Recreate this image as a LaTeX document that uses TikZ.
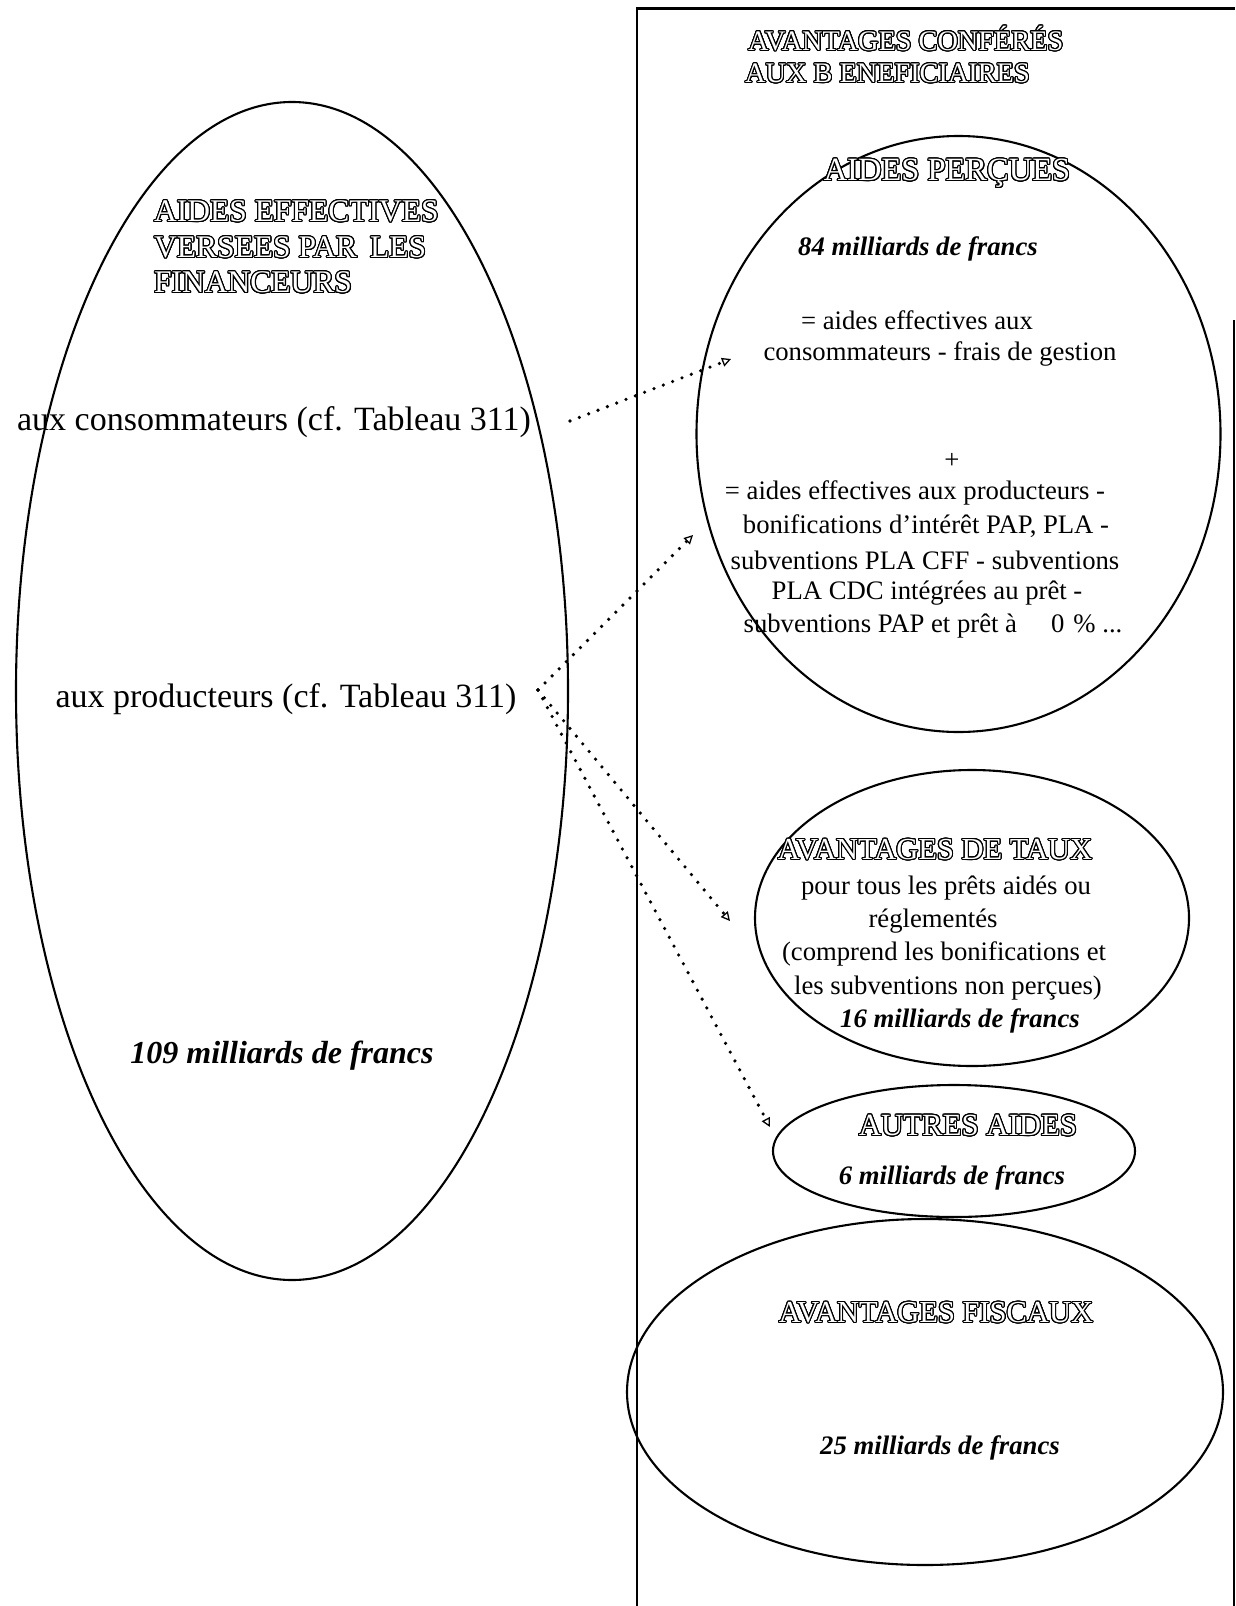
\documentclass[tikz,border=0pt]{standalone}
\usepackage{fontspec}
\setmainfont{Liberation Serif}
\usepackage[copies]{contour}
\usetikzlibrary{arrows.meta}
\contourlength{1.1pt}
\contournumber{24}
\newcommand{\hollow}[1]{\contour{black}{\textcolor{white}{#1}}}
\tikzset{
  oval/.style={draw, line width=2.1pt},
  txt/.style={inner sep=0pt, font=\fontsize{26.7}{32}\selectfont},
  big/.style={inner sep=0pt, font=\fontsize{34}{40}\selectfont},
  bigit/.style={inner sep=0pt, font=\fontsize{32}{38}\selectfont\bfseries\itshape},
  amount/.style={inner sep=0pt, font=\fontsize{26.7}{32}\selectfont\bfseries\itshape},
  ttl/.style={inner sep=0pt, font=\fontsize{28.3}{32}\selectfont},
  dotarrow/.style={line width=3.6pt, line cap=round, dash pattern=on 0pt off 10pt,
     -{Triangle[open, length=9pt, width=9pt, line width=1.3pt, line cap=butt]}},
}
\begin{document}
\begin{tikzpicture}[x=1pt, y=-1pt]
\useasboundingbox (0,0) rectangle (1235,1606);
% frame on the right
\draw[line width=2.5pt] (637,1606) -- (637,8.5) -- (1235,8.5);
\draw[line width=2.5pt] (1234,320) -- (1234,1606);
% ellipses
\draw[oval] (292,691) ellipse [x radius=276, y radius=589];
\draw[oval] (958.5,434) ellipse [x radius=262, y radius=298];
\draw[oval] (972,918) ellipse [x radius=217, y radius=148];
\draw[oval] (954,1151) ellipse [x radius=181, y radius=66];
\draw[oval] (925,1392) ellipse [x radius=298, y radius=173];
% titles
\node[ttl, anchor=west] (t1) at (748,39) {\hollow{AVANTAGES CONFÉRÉS}};
\node[ttl, anchor=west] (t2) at (745,74) {\hollow{AUX B ENEFICIAIRES}};
\node[ttl, font=\fontsize{31.5}{36}\selectfont, anchor=west] (l1) at (154,212) {\hollow{AIDES EFFECTIVES}};
\node[ttl, font=\fontsize{31.5}{36}\selectfont, anchor=west] (l2) at (154,248) {\hollow{VERSEES PAR\, LES}};
\node[ttl, font=\fontsize{31.5}{36}\selectfont, anchor=west] (l3) at (154,283) {\hollow{FINANCEURS}};
% left ellipse texts
\node[big] (cons) at (274,422) {aux consommateurs (cf. Tableau 311)};
\node[big] (prod) at (286,699) {aux producteurs (cf. Tableau 311)};
\node[bigit] (m109) at (282,1056) {109 milliards de francs};
% aides percues
\node[ttl, font=\fontsize{32.5}{36}\selectfont] (ap) at (947,174) {\hollow{AIDES PERÇUES}};
\node[amount] (m84) at (918,249) {84 milliards de francs};
\node[txt] (a1) at (917,320) {= aides effectives aux};
\node[txt] (a2) at (940,354) {consommateurs - frais de gestion};
\node[txt] (plus) at (952,461) {+};
\node[txt] (b1) at (915,493) {= aides effectives aux producteurs -};
\node[txt] (b2) at (926,526) {bonifications d’intérêt PAP, PLA -};
\node[txt] (b3) at (925,560) {subventions PLA CFF - subventions};
\node[txt] (b4) at (927,593) {PLA CDC intégrées au prêt -};
\node[txt] (b5) at (933,626) {subventions PAP et prêt à\hspace{34pt}0\hspace{9pt}\% ...};
% avantages de taux
\node[ttl, font=\fontsize{30.5}{36}\selectfont] (at) at (935,850) {\hollow{AVANTAGES DE TAUX}};
\node[txt] (c1) at (946,888) {pour tous les prêts aidés ou};
\node[txt] (c2) at (933,921) {réglementés};
\node[txt] (c3) at (944,954) {(comprend les bonifications et};
\node[txt] (c4) at (948,988) {les subventions non perçues)};
\node[amount] (m16) at (960,1021) {16 milliards de francs};
% autres aides
\node[ttl, font=\fontsize{30.8}{36}\selectfont] (aa) at (968,1126) {\hollow{AUTRES AIDES}};
\node[amount] (m6) at (952,1178) {6 milliards de francs};
% avantages fiscaux
\node[ttl, font=\fontsize{30.5}{36}\selectfont] (af) at (936,1313) {\hollow{AVANTAGES FISCAUX}};
\node[amount] (m25) at (940,1448) {25 milliards de francs};
% connectors
\coordinate (s1) at (570,421);
\coordinate (e1) at (731,359);
\coordinate (v) at (538,690);
\coordinate (e2) at (693,535);
\coordinate (e3) at (730,921);
\coordinate (e4) at (770,1127);
\draw[dotarrow] (s1) -- (e1);
\draw[dotarrow] (v) -- (e2);
\draw[dotarrow] (v) -- (e3);
\draw[dotarrow] (v) -- (e4);
\end{tikzpicture}
\end{document}
